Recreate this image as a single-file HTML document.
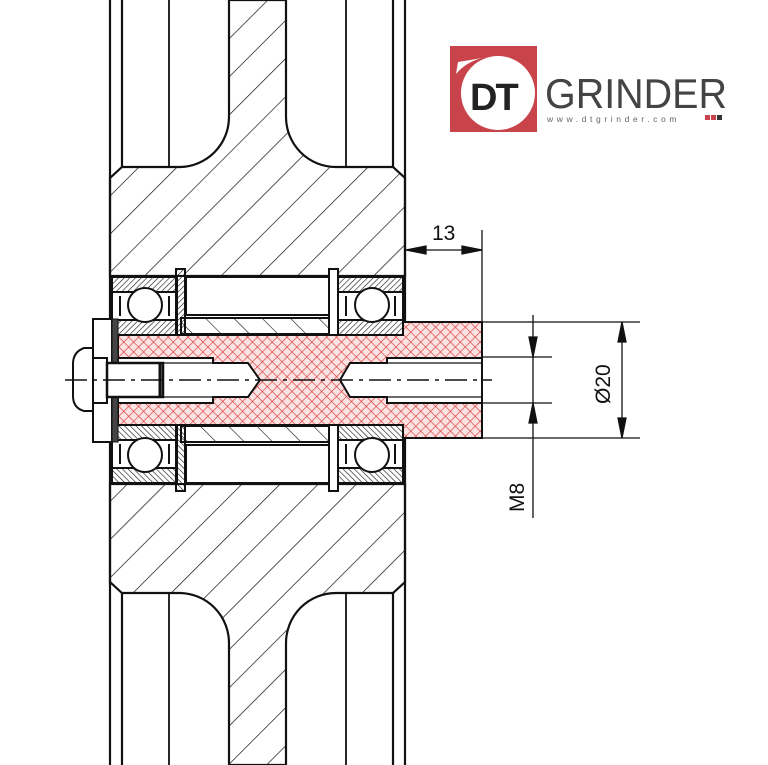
<!DOCTYPE html>
<html><head><meta charset="utf-8"><style>
html,body{margin:0;padding:0;background:#fff;}
svg{display:block;}
</style></head><body>
<svg width="768" height="765" viewBox="0 0 768 765" xmlns="http://www.w3.org/2000/svg" font-family="Liberation Sans, sans-serif">
<defs>
<pattern id="h1" width="27" height="27" patternUnits="userSpaceOnUse" patternTransform="rotate(45)">
<line x1="0" y1="0" x2="0" y2="27" stroke="#111" stroke-width="1.4"/>
</pattern>
<pattern id="h2" width="4" height="4" patternUnits="userSpaceOnUse" patternTransform="rotate(45)">
<line x1="0" y1="0" x2="0" y2="4" stroke="#111" stroke-width="1.2"/>
</pattern>
<pattern id="h3" width="20" height="20" patternUnits="userSpaceOnUse" patternTransform="rotate(-45)">
<line x1="0" y1="0" x2="0" y2="20" stroke="#111" stroke-width="1.2"/>
</pattern>
<pattern id="x" width="7" height="7" patternUnits="userSpaceOnUse" patternTransform="rotate(45)">
<rect width="7" height="7" fill="#fbe3e3"/>
<line x1="0" y1="0" x2="0" y2="7" stroke="#d83a3a" stroke-width="1.3"/>
<line x1="0" y1="0" x2="7" y2="0" stroke="#d83a3a" stroke-width="1.3"/>
</pattern>
</defs>

<g stroke="#111" fill="none" stroke-width="2.2">
<line x1="110" y1="0" x2="110" y2="765"/>
<line x1="405" y1="0" x2="405" y2="765"/>
<line x1="122" y1="0" x2="122" y2="167"/>
<line x1="393" y1="0" x2="393" y2="167"/>
<line x1="122" y1="593" x2="122" y2="765"/>
<line x1="393" y1="593" x2="393" y2="765"/>
<line x1="169" y1="0" x2="169" y2="167" stroke-width="1.8"/>
<line x1="346" y1="0" x2="346" y2="167" stroke-width="1.8"/>
<line x1="169" y1="593" x2="169" y2="765" stroke-width="1.8"/>
<line x1="346" y1="593" x2="346" y2="765" stroke-width="1.8"/>
</g>

<path d="M110,276 L110,178 L122,167 L180,167 A50,50 0 0 0 229,117 L229,0 L286,0 L286,117 A50,50 0 0 0 336,167 L393,167 L405,178 L405,276 Z" fill="url(#h1)" stroke="#111" stroke-width="2.2"/>
<path d="M110,484 L110,582 L122,593 L180,593 A50,50 0 0 1 229,643 L229,765 L286,765 L286,643 A50,50 0 0 1 336,593 L393,593 L405,582 L405,484 Z" fill="url(#h1)" stroke="#111" stroke-width="2.2"/>

<rect x="110" y="276" width="295" height="208" fill="#fff" stroke="#111" stroke-width="2"/>

<g stroke="#111" stroke-width="2">
<g>
<rect x="112" y="277" width="65" height="15" fill="url(#h2)"/>
<rect x="112" y="320" width="65" height="15" fill="url(#h2)"/>
<rect x="112" y="292" width="65" height="28" fill="#fff"/>
<line x1="120" y1="296" x2="120" y2="316"/>
<line x1="169" y1="296" x2="169" y2="316"/>
<circle cx="145" cy="305" r="17" fill="#fff"/>
<rect x="176" y="269" width="9" height="66" fill="url(#h2)"/>
<rect x="338" y="277" width="65" height="15" fill="url(#h2)"/>
<rect x="338" y="320" width="65" height="15" fill="url(#h2)"/>
<rect x="338" y="292" width="65" height="28" fill="#fff"/>
<line x1="346" y1="296" x2="346" y2="316"/>
<line x1="395" y1="296" x2="395" y2="316"/>
<circle cx="372" cy="305" r="17" fill="#fff"/>
<rect x="329" y="269" width="9" height="66" fill="#fff"/>
</g>
<g transform="translate(0,760) scale(1,-1)">
<rect x="112" y="277" width="65" height="15" fill="url(#h2)"/>
<rect x="112" y="320" width="65" height="15" fill="url(#h2)"/>
<rect x="112" y="292" width="65" height="28" fill="#fff"/>
<line x1="120" y1="296" x2="120" y2="316"/>
<line x1="169" y1="296" x2="169" y2="316"/>
<circle cx="145" cy="305" r="17" fill="#fff"/>
<rect x="176" y="269" width="9" height="66" fill="url(#h2)"/>
<rect x="338" y="277" width="65" height="15" fill="url(#h2)"/>
<rect x="338" y="320" width="65" height="15" fill="url(#h2)"/>
<rect x="338" y="292" width="65" height="28" fill="#fff"/>
<line x1="346" y1="296" x2="346" y2="316"/>
<line x1="395" y1="296" x2="395" y2="316"/>
<circle cx="372" cy="305" r="17" fill="#fff"/>
<rect x="329" y="269" width="9" height="66" fill="#fff"/>
</g>
<rect x="181" y="318" width="148" height="16" fill="url(#h3)"/>
<rect x="181" y="426" width="148" height="16" fill="url(#h3)"/>
<rect x="186" y="277" width="143" height="38" fill="#fff"/>
<rect x="186" y="445" width="143" height="38" fill="#fff"/>
</g>

<path d="M118,335 L403,335 L403,322 L482,322 L482,438 L403,438 L403,425 L118,425 Z" fill="url(#x)" stroke="#111" stroke-width="2"/>
<path d="M118,358 L213,358 L213,363 L248,363 L260,380 L248,397 L213,397 L213,403 L118,403 Z" fill="#fff" stroke="#111" stroke-width="2"/>
<path d="M482,358 L387,358 L387,363 L350,363 L340,380 L350,397 L387,397 L387,403 L482,403 Z" fill="#fff" stroke="#111" stroke-width="2"/>
<g stroke="#111" stroke-width="1.2"><line x1="118" y1="363" x2="213" y2="363"/><line x1="118" y1="397" x2="213" y2="397"/><line x1="387" y1="363" x2="482" y2="363"/><line x1="387" y1="397" x2="482" y2="397"/></g>

<rect x="93" y="319" width="19" height="123" fill="#fff" stroke="#111" stroke-width="2"/>
<rect x="112" y="319" width="6" height="123" fill="#444" stroke="#111" stroke-width="1"/>
<path d="M93,348 L84,348 Q73,352 73,364 L73,396 Q73,408 84,411 L93,411 Z" fill="#fff" stroke="#111" stroke-width="2"/>
<rect x="93" y="358" width="14" height="45" fill="#fff" stroke="#111" stroke-width="2"/>
<rect x="107" y="363" width="56" height="34" fill="#fff" stroke="#111" stroke-width="2.5"/>
<line x1="160" y1="364" x2="160" y2="396" stroke="#111" stroke-width="3"/>

<line x1="65" y1="380" x2="492" y2="380" stroke="#111" stroke-width="1.4" stroke-dasharray="22,6,4,6"/>

<g stroke="#111" stroke-width="1.3" fill="#111">
<line x1="482" y1="230" x2="482" y2="322"/>
<line x1="406" y1="250" x2="482" y2="250"/>
<path d="M406,250 L426,246 L426,254 Z"/>
<path d="M482,250 L462,246 L462,254 Z"/>
<line x1="482" y1="322" x2="640" y2="322"/>
<line x1="482" y1="438" x2="640" y2="438"/>
<line x1="622" y1="322" x2="622" y2="438"/>
<path d="M622,322 L618,342 L626,342 Z"/>
<path d="M622,438 L618,418 L626,418 Z"/>
<line x1="482" y1="357" x2="552" y2="357"/>
<line x1="482" y1="403" x2="552" y2="403"/>
<line x1="533" y1="315" x2="533" y2="518"/>
<path d="M533,357 L529,337 L537,337 Z"/>
<path d="M533,403 L529,423 L537,423 Z"/>
</g>
<g fill="#111" font-size="21">
<text x="432" y="240">13</text>
<text transform="translate(610,404) rotate(-90)">Ø20</text>
<text transform="translate(524,512) rotate(-90)">M8</text>
</g>

<rect x="450" y="46" width="87" height="86" fill="#c8444a"/>
<circle cx="498" cy="93" r="37" fill="#fff"/>
<path d="M456,74 Q466,62 482,58 L458,62 Z" fill="#fff"/>
<text x="470" y="110" font-size="38" font-weight="bold" fill="#222" letter-spacing="-2">DT</text>
<text x="545" y="108" font-size="42" fill="#444" textLength="182" lengthAdjust="spacingAndGlyphs">GRINDER</text>
<text x="547" y="122" font-size="8.5" fill="#666" letter-spacing="3.6">www.dtgrinder.com</text>
<rect x="705" y="115" width="5" height="5" fill="#c8444a"/>
<rect x="711" y="115" width="5" height="5" fill="#c8444a"/>
<rect x="717" y="115" width="5" height="5" fill="#333"/>
</svg>
</body></html>
